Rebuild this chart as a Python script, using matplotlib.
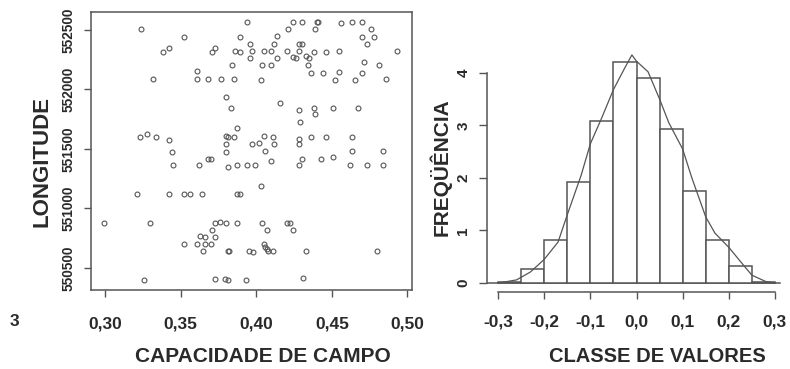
import matplotlib
matplotlib.use('Agg')
import matplotlib.pyplot as plt

plt.rcParams['font.family'] = ['Liberation Sans', 'DejaVu Sans']

# ---- scatter data (capacidade de campo vs longitude) ----
cap_campo = [
    0.394, 0.424, 0.430, 0.440, 0.441, 0.456, 0.463, 0.470,
    0.324, 0.421, 0.439, 0.476,
    0.352, 0.389, 0.414, 0.470, 0.478,
    0.396, 0.412, 0.428, 0.430, 0.473,
    0.342, 0.373,
    0.338, 0.371, 0.386, 0.389, 0.397, 0.405, 0.410, 0.420, 0.428, 0.438, 0.446, 0.455, 0.493,
    0.396, 0.414, 0.424, 0.426, 0.433, 0.435,
    0.471,
    0.384, 0.404, 0.410, 0.434, 0.481,
    0.361,
    0.436, 0.444, 0.455, 0.470,
    0.332, 0.361, 0.368, 0.377, 0.385, 0.403, 0.452, 0.465, 0.486,
    0.380, 0.416,
    0.383, 0.438, 0.451, 0.467,
    0.428, 0.439, 0.429, 0.387, 0.328,
    0.323, 0.334, 0.380, 0.381, 0.385, 0.405, 0.411, 0.436, 0.446, 0.463,
    0.342, 0.428,
    0.380, 0.397, 0.402, 0.412, 0.428,
    0.344, 0.380, 0.406, 0.463, 0.484,
    0.368, 0.370, 0.443, 0.451, 0.430,
    0.410,
    0.345, 0.362, 0.387, 0.394, 0.399, 0.428, 0.462, 0.473, 0.484,
    0.381,
    0.403,
    0.321, 0.342, 0.352, 0.356, 0.364, 0.387, 0.389,
    0.299, 0.330, 0.373, 0.376, 0.380, 0.387, 0.404, 0.420, 0.422,
    0.371, 0.407, 0.424,
    0.363, 0.366, 0.373,
    0.352, 0.361, 0.366, 0.370, 0.405,
    0.406, 0.407,
    0.365, 0.381, 0.382, 0.395, 0.398, 0.408, 0.411, 0.433, 0.480,
    0.326, 0.373, 0.379, 0.381, 0.393, 0.431,
]
longitude = [
    552567, 552567, 552567, 552567, 552567, 552559, 552567, 552567,
    552508, 552508, 552508, 552508,
    552441, 552441, 552450, 552441, 552441,
    552382, 552382, 552382, 552382, 552382,
    552349, 552349,
    552315, 552315, 552324, 552315, 552324, 552324, 552324, 552324, 552324, 552315, 552315, 552324, 552324,
    552265, 552265, 552273, 552265, 552282, 552265,
    552231,
    552206, 552206, 552206, 552206, 552206,
    552155,
    552139, 552139, 552147, 552139,
    552088, 552088, 552088, 552088, 552088, 552080, 552080, 552080, 552088,
    551937, 551887,
    551845, 551845, 551845, 551845,
    551828, 551794, 551727, 551676, 551626,
    551601, 551601, 551609, 551601, 551601, 551609, 551601, 551601, 551601, 551601,
    551576, 551584,
    551542, 551542, 551550, 551542, 551542,
    551475, 551475, 551483, 551483, 551483,
    551416, 551416, 551416, 551433, 551416,
    551399,
    551366, 551366, 551366, 551366, 551366, 551366, 551366, 551366, 551366,
    551349,
    551185,
    551122, 551122, 551122, 551122, 551122, 551122, 551122,
    550878, 550878, 550878, 550887, 550878, 550878, 550878, 550878, 550878,
    550819, 550819, 550819,
    550769, 550761, 550761,
    550702, 550702, 550702, 550702, 550702,
    550677, 550660,
    550643, 550643, 550643, 550643, 550634, 550643, 550643, 550643, 550643,
    550399, 550408, 550408, 550399, 550399, 550416,
]
x_ticks1 = [0.30, 0.35, 0.40, 0.45, 0.50]
x_labels1 = ['0,30', '0,35', '0,40', '0,45', '0,50']
y_ticks1 = [550500, 551000, 551500, 552000, 552500]
y_labels1 = ['550500', '551000', '551500', '552000', '552500']

# ---- histogram data ----
bin_left = [-0.30, -0.25, -0.20, -0.15, -0.10, -0.05, 0.00, 0.05, 0.10, 0.15, 0.20, 0.25]
freq = [0.02, 0.26, 0.81, 1.93, 3.09, 4.21, 3.91, 2.94, 1.75, 0.81, 0.32, 0.02]
curve_x = [-0.30, -0.26, -0.23, -0.20, -0.17, -0.15, -0.12, -0.10, -0.075, -0.05,
           -0.025, -0.01, 0.0, 0.025, 0.05, 0.07, 0.10, 0.12, 0.15, 0.17, 0.20,
           0.23, 0.25, 0.28, 0.30]
curve_y = [0.0, 0.06, 0.21, 0.45, 0.78, 1.30, 2.05, 2.65, 3.15, 3.68,
           4.10, 4.34, 4.22, 4.02, 3.50, 3.05, 2.55, 2.00, 1.26, 0.95, 0.68,
           0.36, 0.15, 0.03, 0.0]
x_ticks2 = [-0.3, -0.2, -0.1, 0.0, 0.1, 0.2, 0.3]
x_labels2 = ['-0,3', '-0,2', '-0,1', '0,0', '0,1', '0,2', '0,3']
y_ticks2 = [0, 1, 2, 3, 4]
y_labels2 = ['0', '1', '2', '3', '4']

LC = '#555555'
TC = '#2a2a2a'
W, H = 790, 369

fig = plt.figure(figsize=(7.9, 3.69), dpi=100)
fig.patch.set_facecolor('white')

# ---- left panel ----
ax1 = fig.add_axes([91 / W, (H - 290) / H, 321 / W, 278 / H])
ax1.plot(cap_campo, longitude, 'o', ms=3.5, mfc='none', mec=LC, mew=0.8)
ax1.set_xlim(0.2907, 0.5030)
ax1.set_ylim(550315, 552651)
ax1.set_xticks(x_ticks1)
ax1.set_xticklabels(x_labels1, fontsize=12.5, fontweight='bold', color=TC)
ax1.set_yticks(y_ticks1)
ax1.set_yticklabels(y_labels1, fontsize=9.8, fontweight='bold', color=TC,
                    rotation=90, va='center')
ax1.tick_params(axis='x', direction='out', length=5, width=1, color=LC, pad=14)
ax1.tick_params(axis='y', direction='out', length=5, width=1, color=LC, pad=6)
for s in ax1.spines.values():
    s.set_color(LC)
    s.set_linewidth(1.1)

fig.text(263 / W, 1 - 356 / H, 'CAPACIDADE DE CAMPO', ha='center', va='center',
         fontsize=15, fontweight='bold', color=TC)
fig.text(42 / W, 1 - 161 / H, 'LONGITUDE', ha='center', va='center',
         rotation=90, fontsize=16, fontweight='bold', color=TC)

# ---- right panel ----
ax2 = fig.add_axes([487 / W, (H - 292) / H, 299 / W, 246 / H])
ax2.bar(bin_left, freq, width=0.05, align='edge', facecolor='white',
        edgecolor=LC, linewidth=1.1, zorder=2)
ax2.axhline(0, xmin=0.0, xmax=0.98, color=LC, lw=1.1, zorder=1)
ax2.plot(curve_x, curve_y, color=LC, lw=0.9, zorder=3)
ax2.set_xlim(-0.324, 0.324)
ax2.set_ylim(-0.17, 4.51)
for side in ('top', 'right'):
    ax2.spines[side].set_visible(False)
ax2.spines['left'].set_bounds(0, 4)
ax2.spines['bottom'].set_bounds(-0.3, 0.3)
for side in ('left', 'bottom'):
    ax2.spines[side].set_color(LC)
    ax2.spines[side].set_linewidth(1.1)
ax2.set_xticks(x_ticks2)
ax2.set_xticklabels(x_labels2, fontsize=12.5, fontweight='bold', color=TC)
ax2.set_yticks(y_ticks2)
ax2.set_yticklabels(y_labels2, fontsize=11, fontweight='bold', color=TC,
                    rotation=90, va='center')
ax2.tick_params(axis='x', direction='out', length=5, width=1, color=LC, pad=11)
ax2.tick_params(axis='y', direction='out', length=6, width=1, color=LC, pad=6)

fig.text(657 / W, 1 - 356 / H, 'CLASSE DE VALORES', ha='center', va='center',
         fontsize=14.5, fontweight='bold', color=TC)
fig.text(440 / W, 1 - 167 / H, 'FREQÜÊNCIA', ha='center', va='center',
         rotation=90, fontsize=15, fontweight='bold', color=TC)

# cropped remnant of a neighbouring label at the left edge
fig.text(14 / W, 1 - 322 / H, '3', ha='center', va='center',
         fontsize=12.5, fontweight='bold', color=TC)

fig.savefig('out.png', dpi=100)
